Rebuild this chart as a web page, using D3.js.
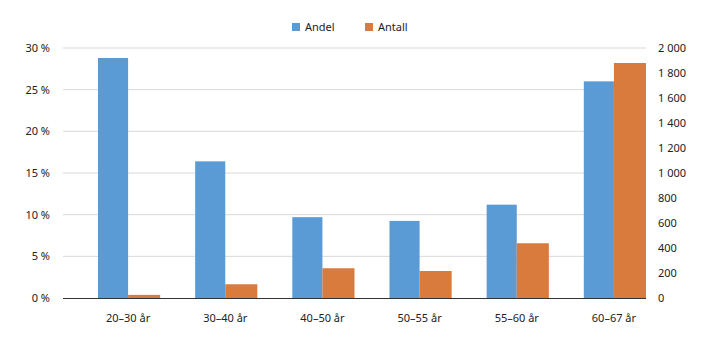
<!DOCTYPE html>
<html><head><meta charset="utf-8">
<script src="https://cdn.jsdelivr.net/npm/d3@7"></script>
<style>body{margin:0;background:#fff}svg text{font-family:"Noto Sans",sans-serif;fill:#222}</style>
</head><body><svg id="c" width="720" height="341"></svg>
<script>
const categories = ["20–30 år","30–40 år","40–50 år","50–55 år","55–60 år","60–67 år"];
const andel = [28.8, 16.4, 9.7, 9.25, 11.2, 26.0];
const antall = [25, 110, 238, 216, 438, 1880];
const leftTicks = [0,5,10,15,20,25,30];
const rightTicks = [0,200,400,600,800,1000,1200,1400,1600,1800,2000];
const seriesNames = ["Andel","Antall"];
const colors = ["#5b9bd5","#d87b3c"];

const svg = d3.select("#c");
const L = 63, R = 646, T = 48, B = 298;
const x = d3.scaleBand().domain(categories).range([L,R]).padding(0);
const yL = d3.scaleLinear().domain([0,30]).range([B,T]);
const yR = d3.scaleLinear().domain([0,2000]).range([B,T]);
const bw = x.bandwidth();

// gridlines
svg.append("g").selectAll("line").data(leftTicks.filter(d=>d>0)).join("line")
  .attr("x1",L).attr("x2",R).attr("y1",d=>yL(d)).attr("y2",d=>yL(d))
  .attr("stroke","#d9d9d9").attr("stroke-width",1);

// bars
svg.append("g").selectAll("rect").data(categories).join("rect")
  .attr("x",d=>x(d)+bw*0.36).attr("width",bw*0.31)
  .attr("y",(d,i)=>yL(andel[i])).attr("height",(d,i)=>B-yL(andel[i]))
  .attr("fill",colors[0]);
svg.append("g").selectAll("rect").data(categories).join("rect")
  .attr("x",d=>x(d)+bw*0.67).attr("width",bw*0.33)
  .attr("y",(d,i)=>yR(antall[i])).attr("height",(d,i)=>B-yR(antall[i]))
  .attr("fill",colors[1]);

// baseline
svg.append("line").attr("x1",L).attr("x2",R).attr("y1",B+0.5).attr("y2",B+0.5)
  .attr("stroke","#333").attr("stroke-width",1);

// left axis labels
const fmtL = d=>d+"\u00a0%";
const fmtR = d=>d3.format(",")(d).replace(/,/g,"\u00a0");
svg.append("g").selectAll("text").data(leftTicks).join("text")
  .attr("x",50).attr("y",d=>yL(d)).attr("dy","0.35em").attr("text-anchor","end")
  .attr("font-size",11).text(fmtL);
svg.append("g").selectAll("text").data(rightTicks).join("text")
  .attr("x",658).attr("y",d=>yR(d)).attr("dy","0.35em").attr("text-anchor","start")
  .attr("font-size",11).text(fmtR);

// x labels
svg.append("g").selectAll("text").data(categories).join("text")
  .attr("x",d=>x(d)+bw*0.67).attr("y",318).attr("dy","0.35em").attr("text-anchor","middle")
  .attr("font-size",11).text(d=>d);

// legend
const lg = svg.append("g");
const lx = [292, 365];
seriesNames.forEach((n,i)=>{
  lg.append("rect").attr("x",lx[i]).attr("y",23).attr("width",8).attr("height",8).attr("fill",colors[i]);
  lg.append("text").attr("x",lx[i]+13).attr("y",27).attr("dy","0.35em").attr("font-size",11).text(n);
});
</script></body></html>
